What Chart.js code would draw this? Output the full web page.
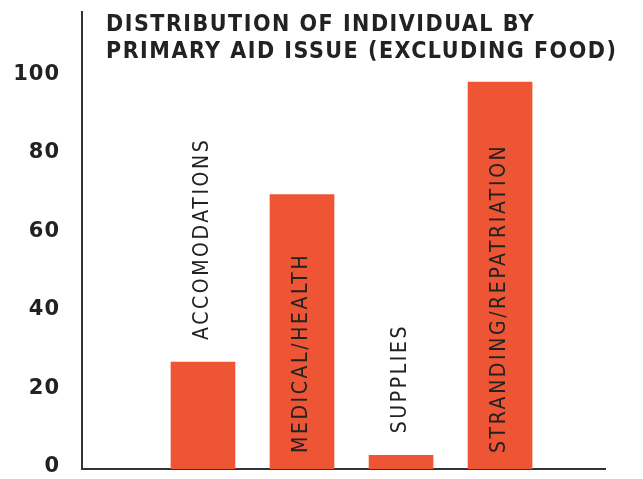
<!DOCTYPE html>
<html>
<head>
<meta charset="utf-8">
<script src="https://cdn.jsdelivr.net/npm/chart.js@4.4.0/dist/chart.umd.min.js"></script>
<style>
html, body { margin: 0; padding: 0; background: #fff; }
#wrap { width: 643px; height: 479px; }
</style>
</head>
<body>
<div id="wrap"><canvas id="aidChart" width="643" height="479"></canvas></div>
<script>
// chart data
var categories = ['ACCOMODATIONS', 'MEDICAL/HEALTH', 'SUPPLIES', 'STRANDING/REPATRIATION'];
var values = [27.3, 70, 3.5, 98.7];
var tickValues = [0, 20, 40, 60, 80, 100];
var titleLines = ['DISTRIBUTION OF INDIVIDUAL BY', 'PRIMARY AID ISSUE (EXCLUDING FOOD)'];

var barColor = '#EE5535';
var inkColor = '#222222';

// title drawn at the top left, next to the y axis
var titlePlugin = {
  id: 'titleText',
  afterDraw: function (chart) {
    var ctx = chart.ctx;
    ctx.save();
    ctx.font = 'bold 23px "DejaVu Sans Condensed"';
    ctx.letterSpacing = '1.5px';
    ctx.fillStyle = inkColor;
    ctx.textAlign = 'left';
    ctx.textBaseline = 'alphabetic';
    ctx.fillText(titleLines[0], 106, 31);
    ctx.fillText(titleLines[1], 106, 58);
    ctx.restore();
  }
};

// category names written vertically, inside the bar when it fits
var barLabels = {
  id: 'barLabels',
  afterDatasetsDraw: function (chart) {
    var ctx = chart.ctx;
    var meta = chart.getDatasetMeta(0);
    ctx.save();
    ctx.font = '21px "DejaVu Sans Condensed"';
    ctx.letterSpacing = '2.6px';
    ctx.fillStyle = inkColor;
    ctx.textAlign = 'left';
    ctx.textBaseline = 'middle';
    meta.data.forEach(function (bar, i) {
      var txt = categories[i];
      var w = ctx.measureText(txt).width;
      var start = (bar.base - bar.y > w + 30) ? bar.base - 16 : bar.y - 22;
      ctx.save();
      ctx.translate(bar.x, start);
      ctx.rotate(-Math.PI / 2);
      ctx.fillText(txt, 0, 0);
      ctx.restore();
    });
    ctx.restore();
  }
};

var spacingPlugin = {
  id: 'tickSpacing',
  beforeDraw: function (chart) {
    chart.ctx.letterSpacing = '1px';
  }
};

var ctx = document.getElementById('aidChart').getContext('2d');
var aidChart = new Chart(ctx, {
  type: 'bar',
  data: {
    datasets: [{
      data: values.map(function (v, i) { return { x: i + 1, y: v }; }),
      backgroundColor: barColor,
      barThickness: 64
    }]
  },
  options: {
    responsive: false,
    animation: false,
    layout: { autoPadding: false, padding: { top: 12, right: 38, bottom: 0, left: 0 } },
    plugins: {
      legend: { display: false },
      tooltip: { enabled: false },
      title: { display: false }
    },
    scales: {
      x: {
        type: 'linear',
        offset: false,
        min: -0.222,
        max: 5.06,
        ticks: { display: false },
        grid: { display: false, drawTicks: false },
        border: { color: '#333333', width: 2 },
        afterFit: function (s) { s.height = 10; }
      },
      y: {
        min: 0,
        max: 116.6,
        afterBuildTicks: function (s) {
          s.ticks = tickValues.map(function (v) { return { value: v }; });
        },
        ticks: {
          color: inkColor,
          padding: 22,
          labelOffset: -2.5,
          font: { family: '"DejaVu Sans"', size: 21, weight: 'bold' }
        },
        grid: { display: false, drawTicks: false },
        border: { color: '#333333', width: 2 },
        afterFit: function (s) {
          s.width = 82;
          s.paddingTop = 0;
          s.paddingBottom = 0;
        }
      }
    }
  },
  plugins: [spacingPlugin, titlePlugin, barLabels]
});
</script>
</body>
</html>
